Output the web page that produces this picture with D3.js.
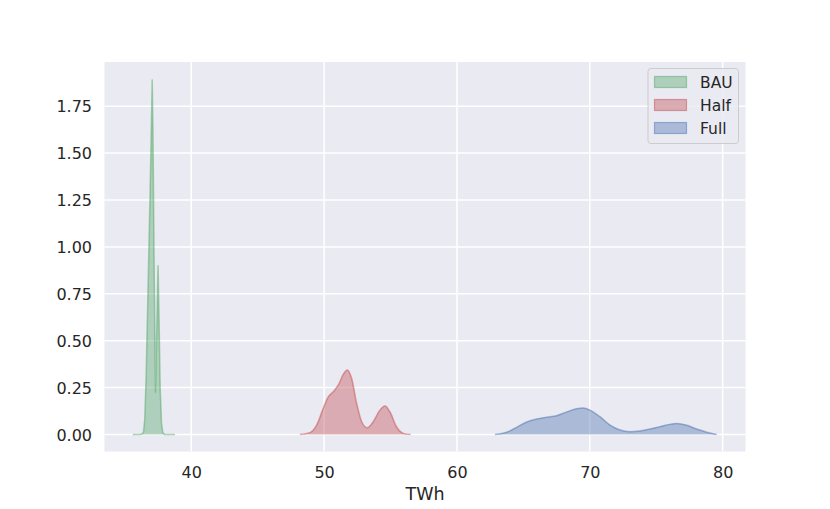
<!DOCTYPE html>
<html>
<head>
<meta charset="utf-8">
<script src="https://cdn.jsdelivr.net/npm/d3@7"></script>
<style>
  html, body { margin: 0; padding: 0; background: #ffffff; }
  svg { display: block; font-family: "DejaVu Sans", sans-serif; }
</style>
</head>
<body>
<svg id="chart" width="830" height="509"></svg>
<script>
// ---- data ----
const seriesNames = ["BAU", "Half", "Full"];
const seriesColors = ["#55A868", "#C44E52", "#4C72B0"];

const bauX = [35.59, 36.20, 36.40, 36.50, 36.60, 36.70, 36.80, 36.90, 37.00, 37.06, 37.12, 37.20, 37.31, 37.40, 37.50, 37.58, 37.66, 37.76, 37.86, 38.00, 38.78];
const bauY = [0.0, 0.0, 0.01, 0.08, 0.30, 0.62, 0.95, 1.28, 1.65, 1.89, 1.60, 0.95, 0.225, 0.55, 0.90, 0.60, 0.25, 0.06, 0.01, 0.0, 0.0];

const halfX = [48.18, 48.93, 49.44, 49.94, 50.31, 50.69, 51.07, 51.44, 51.74, 52.07, 52.45, 52.83, 53.25, 53.70, 54.20, 54.59, 54.96, 55.46, 55.96, 56.51];
const halfY = [0.0, 0.01, 0.05, 0.14, 0.20, 0.228, 0.264, 0.32, 0.344, 0.30, 0.166, 0.068, 0.036, 0.068, 0.13, 0.152, 0.12, 0.04, 0.006, 0.0];

const fullX = [62.86, 63.74, 64.49, 65.25, 66.00, 66.75, 67.50, 68.26, 69.01, 69.51, 70.01, 70.76, 71.52, 72.27, 73.02, 73.77, 74.53, 75.28, 76.03, 76.54, 77.29, 78.04, 78.80, 79.55];
const fullY = [0.0, 0.012, 0.038, 0.067, 0.083, 0.092, 0.10, 0.12, 0.137, 0.141, 0.13, 0.095, 0.05, 0.024, 0.015, 0.019, 0.029, 0.042, 0.054, 0.058, 0.049, 0.029, 0.012, 0.0];

const xTicks = [40, 50, 60, 70, 80];
const yTicks = [0.00, 0.25, 0.50, 0.75, 1.00, 1.25, 1.50, 1.75];
const xLabel = "TWh";

// ---- layout ----
const svg = d3.select("#chart");
const pLeft = 104.5, pRight = 745.5, pTop = 62, pBottom = 451.5;

const x = d3.scaleLinear().domain([33.47, 81.72]).range([pLeft, pRight]);
const y = d3.scaleLinear().domain([-0.0906, 1.9856]).range([pBottom, pTop]);

// background
svg.append("rect").attr("x", pLeft).attr("y", pTop)
  .attr("width", pRight - pLeft).attr("height", pBottom - pTop)
  .attr("fill", "#EAEAF2");

// grid
const g = svg.append("g");
g.selectAll(".gx").data(xTicks).join("line")
  .attr("x1", d => x(d)).attr("x2", d => x(d))
  .attr("y1", pTop).attr("y2", pBottom)
  .attr("stroke", "#ffffff").attr("stroke-width", 1.5);
g.selectAll(".gy").data(yTicks).join("line")
  .attr("x1", pLeft).attr("x2", pRight)
  .attr("y1", d => y(d)).attr("y2", d => y(d))
  .attr("stroke", "#ffffff").attr("stroke-width", 1.5);

// axes (labels only, no domain line / ticks)
const xAxis = d3.axisBottom(x).tickValues(xTicks).tickSize(0).tickPadding(0).tickFormat(d3.format("d"));
const xa = svg.append("g").attr("transform", `translate(0,${pBottom})`).call(xAxis);
xa.select(".domain").remove();
xa.selectAll("text").attr("y", 26).attr("dy", null)
  .attr("font-size", 16).attr("fill", "#262626").attr("font-family", "DejaVu Sans");

const yAxis = d3.axisLeft(y).tickValues(yTicks).tickSize(0).tickPadding(0).tickFormat(d3.format(".2f"));
const ya = svg.append("g").attr("transform", `translate(${pLeft},0)`).call(yAxis);
ya.select(".domain").remove();
ya.selectAll("text").attr("x", -12.5).attr("dy", "0.36em")
  .attr("font-size", 16).attr("fill", "#262626").attr("font-family", "DejaVu Sans");

// x label
svg.append("text").attr("x", (pLeft + pRight) / 2).attr("y", 500)
  .attr("text-anchor", "middle").attr("font-size", 17.5).attr("fill", "#262626")
  .text(xLabel);

// series
const seriesX = [bauX, halfX, fullX];
const seriesY = [bauY, halfY, fullY];
const curves = [d3.curveLinear, d3.curveMonotoneX, d3.curveMonotoneX];

const plot = svg.append("g");
seriesNames.forEach((name, i) => {
  const pts = seriesX[i].map((v, k) => [v, seriesY[i][k]]);
  const area = d3.area().x(d => x(d[0])).y0(y(0)).y1(d => y(d[1])).curve(curves[i]);
  const line = d3.line().x(d => x(d[0])).y(d => y(d[1])).curve(curves[i]);
  plot.append("path").attr("d", area(pts))
    .attr("fill", seriesColors[i]).attr("fill-opacity", 0.4).attr("stroke", "none");
  plot.append("path").attr("d", line(pts))
    .attr("fill", "none").attr("stroke", seriesColors[i]).attr("stroke-opacity", 0.5)
    .attr("stroke-width", 1.5).attr("stroke-linejoin", "round");
});

// legend
const lg = svg.append("g");
lg.append("rect").attr("x", 648).attr("y", 68.5).attr("width", 90.5).attr("height", 75)
  .attr("rx", 3).attr("fill", "#EAEAF2").attr("fill-opacity", 0.8)
  .attr("stroke", "#CCCCCC").attr("stroke-width", 1);
seriesNames.forEach((name, i) => {
  const cy = 82 + i * 23;
  lg.append("rect").attr("x", 654.5).attr("y", cy - 5.5).attr("width", 32).attr("height", 11)
    .attr("fill", seriesColors[i]).attr("fill-opacity", 0.4)
    .attr("stroke", seriesColors[i]).attr("stroke-opacity", 0.5).attr("stroke-width", 1.2);
  lg.append("text").attr("x", 700).attr("y", cy).attr("dy", "0.36em")
    .attr("font-size", 15.5).attr("fill", "#262626").text(name);
});
</script>
</body>
</html>
